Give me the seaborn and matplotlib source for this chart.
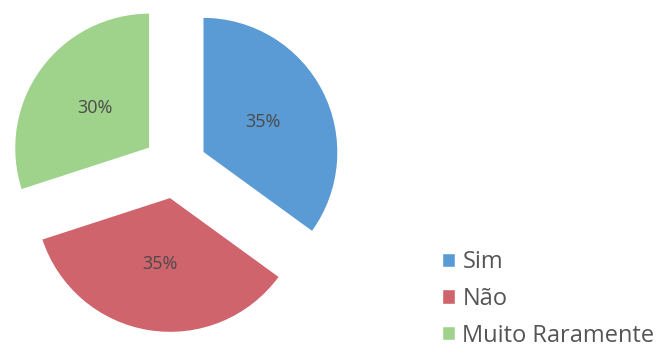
import seaborn as sns
import matplotlib.pyplot as plt

labels = ['Sim', 'Não', 'Muito Raramente']
values = [35, 35, 30]
colors = ['#5b9bd5', '#d0646c', '#9fd38c']

sns.set_theme(style='white')
plt.rcParams['font.family'] = ['Open Sans', 'DejaVu Sans']

fig = plt.figure(figsize=(6.62, 3.52), dpi=100)
ax = fig.add_axes([12.5/662, 23/352, 325/662, 325/352])

wedges, texts, autotexts = ax.pie(values, colors=colors, startangle=90, counterclock=False,
                                  explode=[0.24, 0.24, 0.24], autopct='%1.0f%%',
                                  pctdistance=0.5, radius=1.04,
                                  textprops={'fontsize': 13, 'color': '#4a4a4a'})
ax.set_xlim(-1.25, 1.25)
ax.set_ylim(-1.25, 1.25)
ax.set_aspect('equal')

fig.legend(wedges, labels, loc='lower left', bbox_to_anchor=(421/662, -0.048),
           frameon=False, fontsize=17, labelcolor='#555555',
           handlelength=0.55, handleheight=0.55, handletextpad=0.3, labelspacing=0.54)

fig.savefig('out.png', dpi=100)
